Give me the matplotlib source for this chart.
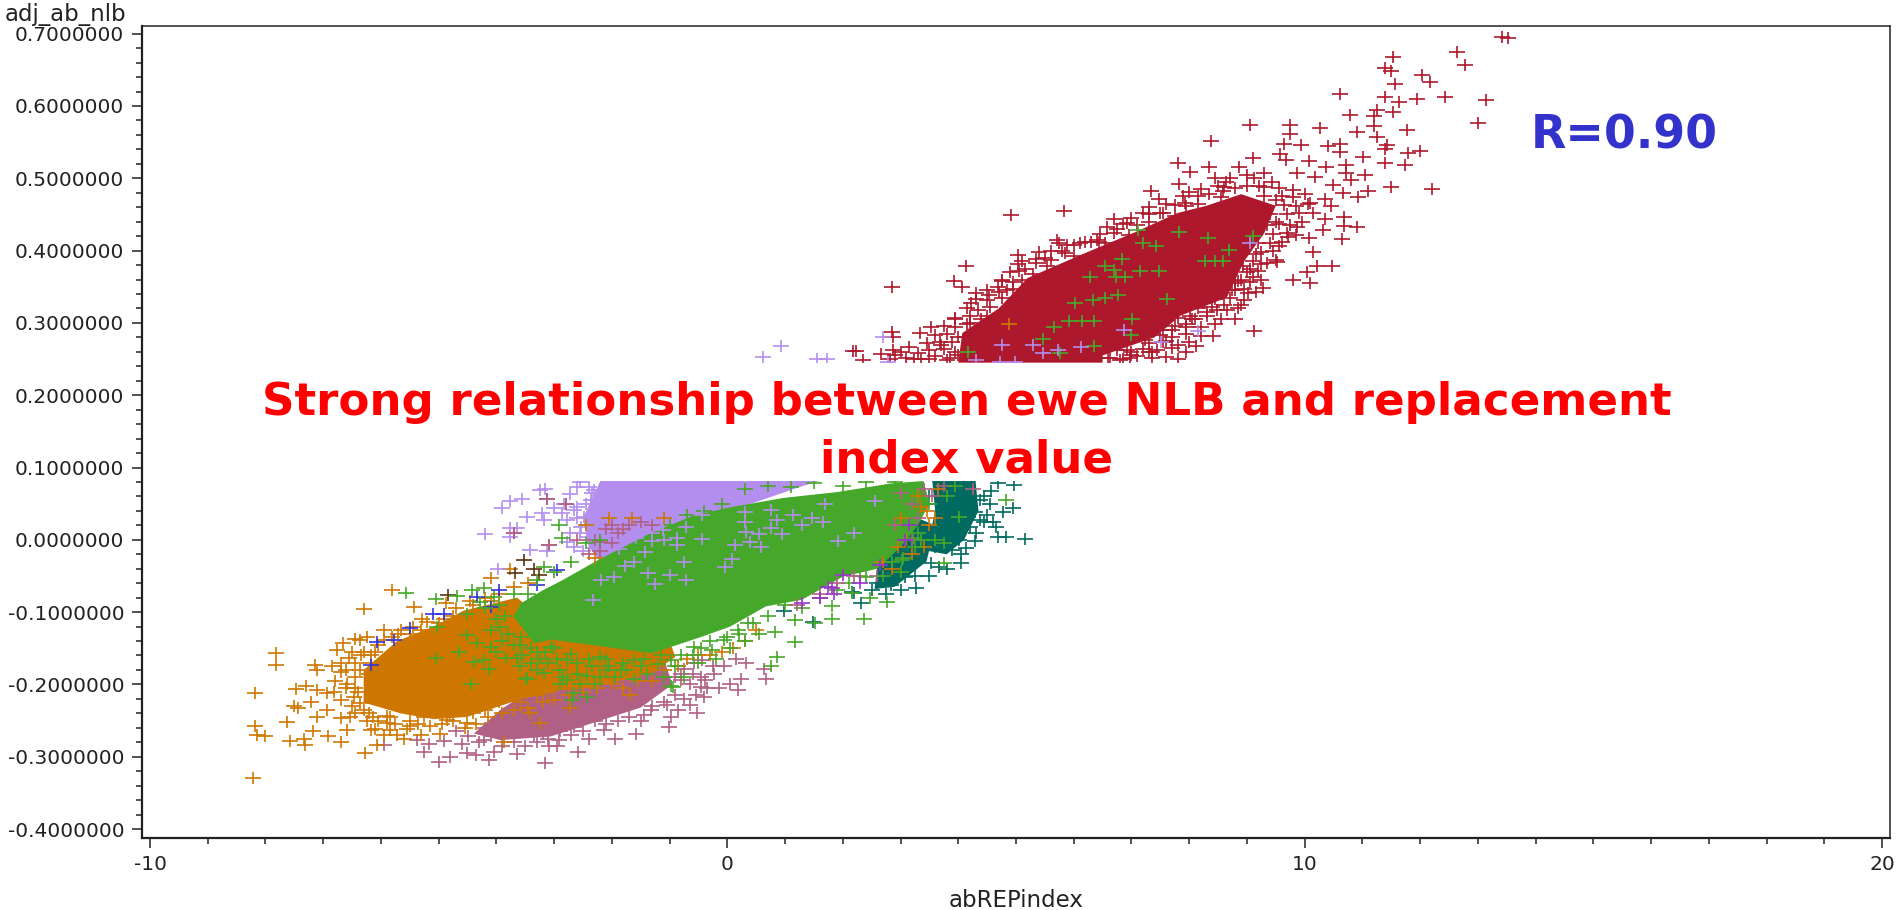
import numpy as np
import matplotlib
matplotlib.use('Agg')
import matplotlib.pyplot as plt
from matplotlib.path import Path

plt.rcParams['axes.unicode_minus'] = False

# Values. Where the crosses overlap into a solid mass the
# single points can't be read, so those parts are kept as an outline (*_core).
y_ticks = [0.7, 0.6, 0.5, 0.4, 0.3, 0.2, 0.1, 0.0, -0.1, -0.2, -0.3, -0.4]
x_ticks = [-10, 0, 10, 20]

red_core = [(4.0, .245), (4.07, .286), (4.7, .320), (5.2, .362), (6.15, .395), (7.05, .425), (7.8, .452),
            (8.3, .462), (8.9, .478), (9.5, .462), (9.3, .424), (8.95, .385), (8.65, .335), (7.85, .310),
            (7.4, .280), (6.5, .255), (6.5, .245)]
red_pts = [(13.41, .695), (13.52, .694), (12.64, .674), (12.78, .656), (11.53, .668), (11.39, .652),
           (11.49, .648), (12.04, .643), (12.17, .633), (11.56, .630), (10.62, .616), (11.39, .613),
           (11.63, .606), (11.94, .610), (12.43, .612), (13.14, .608), (13.01, .577), (11.53, .592),
           (11.26, .595), (11.20, .586), (10.78, .588), (11.20, .572), (11.77, .567), (10.90, .564),
           (11.25, .557), (9.06, .574), (9.74, .574), (9.74, .561), (10.27, .569), (8.38, .551),
           (9.64, .547), (9.93, .546), (10.41, .545), (10.62, .548), (10.62, .537), (11.42, .546),
           (11.40, .541), (11.79, .535), (12.0, .538), (11.01, .529), (11.40, .521), (11.73, .518),
           (9.10, .528), (9.58, .533), (9.68, .525), (10.07, .524), (7.81, .521), (8.01, .509),
           (8.35, .515), (8.86, .515), (10.37, .516), (10.72, .518), (10.71, .507), (11.05, .505),
           (11.50, .488), (12.21, .485), (11.09, .482), (10.92, .474), (10.66, .480), (10.49, .491),
           (10.80, .498), (10.35, .472), (10.45, .462), (10.10, .466), (10.14, .452), (10.35, .444),
           (10.68, .447), (10.68, .434), (10.90, .433), (10.31, .429), (10.64, .416), (10.08, .417),
           (9.87, .432), (9.72, .419), (9.56, .406), (10.15, .398), (9.52, .384), (10.22, .379),
           (10.47, .378), (10.04, .371), (9.79, .359), (10.10, .355), (9.27, .348), (9.02, .341),
           (8.90, .325), (8.79, .306), (9.13, .289), (8.44, .299), (8.42, .282), (8.11, .268),
           (8.48, .318), (9.13, .500), (9.29, .507), (9.21, .489), (9.44, .495), (9.87, .507),
           (10.18, .502), (9.79, .484), (8.63, .495), (8.44, .500), (7.82, .492), (7.99, .481),
           (7.33, .483), (7.47, .472), (6.70, .444), (6.58, .433), (6.93, .438), (7.20, .452),
           (7.55, .452), (7.93, .466), (8.59, .482), (4.92, .449), (5.83, .455), (5.71, .414),
           (5.88, .408), (6.19, .412), (6.43, .412), (5.03, .394), (5.03, .382), (5.34, .389),
           (4.13, .378), (3.93, .358), (4.07, .349), (2.85, .350), (4.30, .341), (4.76, .359),
           (4.68, .350), (4.53, .339), (4.22, .328), (3.95, .306), (3.52, .295), (3.33, .286),
           (2.85, .288), (3.14, .267), (2.87, .263), (2.67, .257), (2.22, .261), (2.35, .249),
           (3.68, .274), (5.54, .378), (6.0, .392), (8.94, .378), (9.25, .382), (9.10, .364),
           (8.79, .355), (8.48, .341), (8.24, .327), (8.01, .309), (7.70, .290), (7.55, .290),
           (7.24, .276), (6.93, .263), (7.35, .260), (6.97, .251), (6.62, .251), (2.18, .261),
           (2.81, .250), (3.23, .250), (2.87, .281)]
red_fringe = [(3.1, .252), (3.35, .250), (3.6, .254), (3.85, .251), (6.6, .252), (6.85, .250), (7.1, .254),
              (7.35, .251), (7.6, .253), (7.8, .250), (3.5, .262), (3.75, .264), (3.95, .260), (6.75, .262),
              (7.0, .260), (7.2, .264), (7.45, .262), (7.7, .265), (7.95, .260), (3.45, .272), (3.7, .270),
              (3.9, .274), (7.3, .272), (7.55, .274), (7.8, .270), (8.0, .273), (3.6, .283), (3.8, .285),
              (4.0, .281), (7.5, .283), (7.7, .281), (7.95, .285), (8.2, .282), (3.75, .296), (3.95, .294),
              (4.15, .298), (7.75, .296), (7.95, .298), (8.2, .294), (3.95, .307), (4.2, .309), (4.4, .305),
              (7.8, .307), (8.05, .305), (8.3, .309), (8.55, .306), (4.15, .320), (4.35, .318), (4.55, .322),
              (8.15, .320), (8.4, .322), (8.65, .318), (8.85, .321), (4.3, .333), (4.5, .331), (4.75, .335),
              (8.45, .333), (8.7, .335), (8.95, .331), (4.5, .345), (4.7, .343), (4.95, .347), (8.75, .345),
              (8.95, .347), (9.15, .343), (4.75, .358), (4.95, .356), (5.1, .360), (8.85, .358), (9.05, .356),
              (9.25, .360), (4.9, .370), (5.05, .372), (5.3, .368), (9.0, .370), (9.2, .372), (5.1, .385),
              (5.35, .383), (5.6, .387), (9.1, .385), (9.35, .383), (9.5, .387), (5.4, .398), (5.6, .400),
              (5.85, .396), (9.25, .398), (9.45, .400), (5.75, .410), (6.0, .408), (6.3, .412), (6.55, .410),
              (9.4, .410), (9.6, .412), (6.45, .423), (6.7, .425), (6.95, .421), (9.45, .423), (9.7, .425),
              (9.85, .421), (6.85, .437), (7.1, .435), (7.3, .439), (9.55, .437), (9.75, .435), (9.95, .439),
              (7.3, .450), (7.5, .452), (7.75, .448), (9.7, .450), (9.9, .452), (7.75, .463), (7.95, .461),
              (8.15, .465), (9.65, .463), (9.85, .461), (10.05, .465), (8.15, .476), (8.35, .478), (8.55, .474),
              (9.6, .476), (9.8, .474), (10.0, .478), (8.6, .488), (8.8, .486), (9.0, .490), (9.3, .488),
              (9.55, .486), (4.2, .30), (4.5, .31), (4.85, .345), (5.15, .375), (5.5, .39), (5.8, .40), (6.1, .41),
              (6.4, .415), (6.75, .43), (7.0, .445), (7.3, .46), (7.6, .465), (7.9, .475), (8.2, .485), (8.5, .49),
              (8.7, .50), (9.0, .505), (9.3, .475), (9.5, .47), (9.4, .45), (9.35, .435), (9.5, .44), (9.2, .41),
              (9.15, .395), (9.05, .375), (8.9, .36), (8.8, .345), (8.6, .325), (8.3, .315), (8.1, .305),
              (7.95, .295), (7.6, .275), (7.3, .26), (7.0, .255), (6.8, .248), (4.2, .265), (4.0, .255),
              (3.8, .248), (4.15, .28), (3.5, .25), (3.3, .258), (3.0, .26), (2.9, .255)]
red_green = [(7.12, .428), (7.82, .426), (8.32, .417), (7.20, .410), (7.42, .406), (8.69, .401),
             (6.83, .389), (8.28, .385), (8.44, .385), (8.58, .385), (6.54, .379), (6.70, .373),
             (7.14, .372), (7.47, .372), (6.29, .363), (6.74, .364), (6.89, .364), (6.77, .339),
             (6.54, .335), (6.33, .332), (6.02, .328), (7.61, .333), (7.01, .306), (5.92, .303),
             (6.15, .303), (6.35, .303), (5.65, .295), (6.99, .283), (5.47, .278), (6.35, .268),
             (4.16, .260), (5.77, .259), (9.10, .420)]
red_lav = [(2.69, .280), (9.06, .410), (6.87, .290), (8.15, .289), (7.51, .273), (4.76, .269),
           (5.29, .269), (5.46, .259), (6.12, .267), (5.73, .262), (4.30, .249), (4.98, .246),
           (4.72, .246), (2.79, .246), (.61, .253), (.93, .268), (1.56, .250), (1.72, .250)]
red_orange = [(4.88, .299)]

mauve_core = [(-4.39, -.268), (-3.93, -.235), (-3.35, -.205), (-2.77, -.185), (-1.91, -.165), (-1.1, -.165),
              (-.95, -.20), (-1.5, -.232), (-2.2, -.25), (-3.06, -.272), (-3.93, -.277)]
mauve_pts = [(-3.15, -.309), (-2.58, -.294), (-3.09, -.285), (-2.92, -.277), (-4.13, -.305), (-4.36, -.298),
             (-4.51, -.295), (-4.80, -.300), (-5.0, -.307), (-5.25, -.293), (-4.91, -.278), (-5.17, -.282),
             (-5.37, -.277), (-4.60, -.282), (-4.22, -.277), (-4.05, -.293), (-3.64, -.296), (-3.35, -.272),
             (-2.66, -.259), (-2.14, -.263), (-1.59, -.268), (-1.01, -.259), (-.98, -.245), (-1.04, -.229),
             (-.64, -.229), (-.52, -.240), (-1.45, -.242), (-1.33, -.235), (-.75, -.178), (-.81, -.194),
             (-.46, -.203), (-.58, -.171), (-5.95, -.284), (.24, -.192), (.67, -.192), (.18, -.208),
             (.64, -.179), (.33, -.170), (-.23, -.185), (-.41, -.217), (-.38, -.194), (-.44, -.166),
             (-.81, -.185), (-3.12, .057), (-2.8, .050), (-3.7, .009), (-3.09, -.007)]
mauve_fringe = [(-4.7, -.265), (-4.5, -.272), (-4.3, -.28), (-4.1, -.272), (-3.9, -.285), (-3.7, -.28), (-3.5, -.285),
                (-3.3, -.28), (-3.1, -.275), (-2.9, -.265), (-2.7, -.27), (-2.5, -.265), (-2.3, -.25), (-2.1, -.255),
                (-1.9, -.25), (-1.7, -.245), (-1.5, -.25), (-1.3, -.23), (-1.1, -.225), (-.9, -.215), (-.75, -.22),
                (-.55, -.215), (-.85, -.235), (-.35, -.205), (-.15, -.205), (.05, -.2), (-.65, -.2), (-.45, -.19),
                (-.25, -.175), (-.05, -.175), (.15, -.165), (-.6, -.185), (-.9, -.19), (-4.2, -.26), (-3.8, -.262),
                (-3.4, -.262), (-3.2, -.268), (-2.4, -.275), (-1.95, -.275), (-2.95, -.285)]

orange_core = [(-6.3, -.180), (-5.72, -.140), (-5.09, -.120), (-4.57, -.098), (-3.64, -.080), (-2.77, -.140),
               (-1.0, -.140), (-.9, -.162), (-1.31, -.185), (-1.8, -.194), (-2.4, -.205), (-2.89, -.208),
               (-3.64, -.222), (-4.51, -.245), (-5.09, -.248), (-5.66, -.240), (-6.3, -.225)]
orange_pts = [(-7.81, -.156), (-7.81, -.173), (-8.19, -.212), (-7.14, -.173), (-6.85, -.174), (-7.11, -.180),
              (-7.48, -.206), (-7.29, -.202), (-7.51, -.230), (-7.43, -.233), (-7.22, -.225), (-7.11, -.208),
              (-6.93, -.212), (-6.93, -.236), (-7.11, -.245), (-7.62, -.252), (-8.19, -.258), (-8.15, -.270),
              (-8.0, -.272), (-7.58, -.278), (-7.34, -.275), (-7.31, -.284), (-7.18, -.264), (-6.91, -.271),
              (-6.70, -.279), (-6.27, -.295), (-6.07, -.284), (-8.22, -.330), (-6.70, -.247), (-6.53, -.245),
              (-6.59, -.263), (-6.18, -.263), (-5.84, -.263), (-5.72, -.270), (-5.49, -.258), (-4.97, -.268),
              (-3.87, -.279), (-6.65, -.143), (-6.76, -.153), (-6.36, -.139), (-6.56, -.164), (-6.18, -.159),
              (-5.95, -.139), (-5.81, -.069), (-6.30, -.096), (-5.43, -.093), (-5.66, -.125), (-4.10, -.053),
              (-3.76, -.040), (-4.88, -.088), (-5.29, -.109), (-6.70, -.183), (-6.59, -.199), (-6.82, -.210),
              (-6.47, -.217), (-6.36, -.226), (-6.13, -.245), (-5.9, -.254), (-4.86, -.249), (-4.51, -.254),
              (-6.36, -.180), (-6.18, -.171), (-3.24, -.254), (-1.68, -.215), (-2.72, -.233), (-3.41, -.240)]
orange_fringe = [(-6.45, -.137), (-6.25, -.135), (-6.05, -.145), (-6.5, -.155), (-6.3, -.155), (-6.45, -.17), (-6.7, -.17),
                 (-6.6, -.18), (-6.45, -.19), (-6.8, -.195), (-6.6, -.205), (-6.45, -.205), (-6.7, -.222), (-6.5, -.23),
                 (-6.3, -.235), (-6.45, -.24), (-6.25, -.25), (-6.05, -.25), (-5.85, -.245), (-6.1, -.262), (-5.95, -.27),
                 (-5.75, -.255), (-5.55, -.262), (-5.35, -.255), (-5.15, -.258), (-4.95, -.255), (-4.75, -.25), (-4.55, -.26),
                 (-5.6, -.275), (-5.3, -.27), (-4.35, -.255), (-4.15, -.245), (-3.9, -.24), (-3.7, -.235), (-3.45, -.232),
                 (-3.2, -.225), (-3.0, -.222), (-2.75, -.215), (-2.5, -.21), (-2.25, -.205), (-2.0, -.2), (-1.8, -.205),
                 (-1.55, -.195), (-1.3, -.195), (-1.1, -.18), (-.85, -.175), (-.7, -.165), (-.5, -.16), (-.3, -.16),
                 (-.1, -.155), (.1, -.15), (.3, -.14), (.5, -.125), (-5.95, -.125), (-5.7, -.13), (-5.45, -.12),
                 (-5.2, -.113), (-4.9, -.11), (-4.7, -.095), (-4.45, -.085), (-4.2, -.08), (-3.95, -.075), (-3.7, -.065),
                 (-3.45, -.06), (-6.35, -.16), (-6.4, -.21), (-6.2, -.24), (-5.9, -.243), (-5.5, -.25), (-5.25, -.245),
                 (-4.8, -.24), (-4.4, -.24), (-4.2, -.235), (-3.95, -.225), (-3.6, -.225), (-3.3, -.215), (-3.1, -.21),
                 (-2.6, -.2), (-5.8, -.135), (-5.5, -.13), (-5.3, -.125), (-5.0, -.115), (-4.75, -.105), (-4.4, -.09),
                 (-4.1, -.085), (-6.1, -.155), (-6.2, -.185), (-6.15, -.215)]

teal_core = [(3.55, .0813), (4.3, .0813), (4.35, .04), (4.1, .0), (3.8, -.02), (3.45, -.015), (3.6, .04)]
teal_patch = [(2.55, -.068), (2.9, -.065), (3.45, -.03), (3.6, .02), (3.3, .03), (2.9, -.005), (2.6, -.035)]
teal_pts = [(5.16, .001), (4.69, .004), (4.82, .004), (4.66, .018), (4.77, .038), (4.94, .044),
            (4.97, .076), (4.57, .067), (4.29, -.001), (4.13, -.012), (4.04, -.032), (3.67, -.037),
            (3.27, -.066), (2.31, -.088), (2.16, -.072), (1.48, -.114), (.98, -.099), (4.38, .027),
            (4.44, .025), (4.29, .039), (4.01, 0), (3.89, -.014), (3.52, -.032), (3.08, -.051),
            (2.84, -.063), (2.59, -.060), (2.19, -.073), (4.38, .055), (4.14, .050), (3.89, .064),
            (4.69, .078), (4.2, .018), (2.5, -.07), (2.75, -.075), (3.0, -.07), (3.25, -.05), (3.5, -.05),
            (3.8, -.04), (4.05, -.02), (4.3, .01), (4.5, .035), (4.55, .05), (4.6, .025), (4.15, .07),
            (3.95, -.0), (4.45, .06), (3.3, -.02), (3.45, .0), (3.6, -.01), (3.5, .06), (3.65, .05)]

lav_core = [(-2.2, .0813), (-2.5, .03), (-2.4, -.01), (-2.2, -.03), (-1.04, .0), (.05, .04), (1.29, .074), (1.6, .0813)]
lav_pts = [(-3.15, .070), (-3.25, .069), (-3.56, .057), (-3.76, .053), (-3.90, .044), (-3.47, .032),
           (-3.21, .037), (-3.18, .027), (-3.01, .044), (-2.72, .064), (-2.60, .073), (-2.40, .073),
           (-3.76, .016), (-3.64, .016), (-4.19, .008), (-3.76, .004), (-3.41, -.014), (-3.12, -.016),
           (-3.97, -.040), (-2.78, .027), (-2.72, .009), (-2.54, .018), (-2.66, .041), (-2.37, .055),
           (-2.49, .032), (-2.43, .004), (-2.20, .069), (-1.91, .055), (-1.62, .037), (-2.31, -.012),
           (-2.83, .050), (-2.86, .037), (-2.60, .046), (-2.31, .069), (-2.08, .073), (-1.74, .055),
           (-2.2, .037), (-1.97, .032), (-2.78, -.003), (-2.55, .08), (-2.35, .065), (-2.45, .05),
           (-2.25, .055), (-2.3, .04), (-2.1, .05), (-2.6, .03), (-2.4, .02), (-2.2, .025), (-2.05, .025),
           (-1.85, .02), (-1.7, .015), (-2.55, .01), (-2.35, .0), (-2.15, .01), (-1.95, .005), (-1.75, .0),
           (-2.65, -.01), (-2.5, -.015), (-1.5, .015), (-1.3, .01), (-1.1, .0)]
lav_top = [(-2.33, -.083), (-2.18, -.055), (-1.96, -.051), (-1.37, -.046), (-1.0, -.049), (-1.25, -.061),
           (-.72, -.056), (-1.77, -.036), (-1.62, -.030), (-.75, -.030), (-.04, -.037), (.08, -.026),
           (-1.43, -.017), (-1.87, -.013), (-.88, -.007), (-.88, .003), (-.44, .001), (-1.31, -.002),
           (-1.59, .003), (-1.12, .013), (.14, -.007), (.39, -.003), (.58, -.010), (.55, .008),
           (.33, .011), (.95, .008), (.76, .016), (.30, .025), (.76, .041), (1.13, .034),
           (1.47, .030), (1.66, .024), (1.29, .021), (1.91, -.002), (2.19, .009), (2.56, .053),
           (1.69, .050), (.86, .027), (-.72, .018), (-.44, .034), (.30, .039)]

green_core = [(-3.70, -.106), (-3.58, -.088), (-3.2, -.07), (-2.86, -.056), (-2.24, -.028), (-1.31, .010),
              (-.57, .034), (.05, .045), (.98, .058), (1.9, .066), (2.84, .078), (3.4, .0813),
              (3.5, .05), (3.3, .02), (3.0, -.01), (2.6, -.04), (2.0, -.051), (1.29, -.083), (.67, -.092),
              (.05, -.120), (-.44, -.134), (-1.31, -.157), (-2.11, -.148), (-3.04, -.138), (-3.35, -.143)]
green_pts = [(-5.56, -.073), (-5.04, -.082), (-4.68, -.078), (-4.22, -.067), (-4.42, -.070), (-4.28, -.086),
             (-4.51, -.102), (-4.05, -.079), (-5.03, -.120), (-4.51, -.132), (-4.34, -.143), (-4.65, -.155),
             (-5.04, -.163), (-4.10, -.148), (-4.22, -.166), (-4.39, -.169), (-4.13, -.178), (-3.84, -.164),
             (-3.64, -.164), (-4.44, -.199), (-3.47, -.192), (-3.18, -.184), (-2.89, -.180), (-2.77, -.194),
             (-2.43, -.189), (-2.11, -.180), (-2.69, -.222), (-2.43, -.217), (-2.66, -.212), (-1.62, -.192),
             (-.98, -.202), (-.98, -.166), (-1.62, -.166), (-2.2, -.162), (-2.77, -.166), (-3.06, -.148),
             (-3.58, -.134), (-3.93, -.120), (-2.92, .020), (-2.86, .002), (-3.18, -.037), (1.17, -.142),
             (.86, -.162), (.76, -.175), (.83, -.128), (2.37, -.110), (2.77, -.086), (2.47, -.080),
             (1.82, -.109), (1.51, -.115), (1.17, -.111), (1.82, -.092), (2.16, -.074), (.36, -.115),
             (-.01, -.134), (-.26, -.152), (-.57, -.148), (-.94, -.203), (-3.48, -.191), (3.76, -.032),
             (3.02, -.028), (2.40, -.051), (4.82, .055), (4.01, .032), (3.21, .002), (3.76, -.005),
             (.18, -.125)]
green_fringe = [(-3.6, -.145), (-3.3, -.155), (-3.0, -.15), (-2.7, -.158), (-2.4, -.165), (-2.1, -.165), (-1.8, -.17),
                (-1.5, -.175), (-1.2, -.172), (-.9, -.175), (-.6, -.16), (-.3, -.14), (-.05, -.138), (.2, -.13),
                (.45, -.115), (.7, -.105), (1.0, -.09), (1.3, -.095), (1.6, -.08), (1.9, -.07), (2.1, -.06), (2.3, -.05),
                (-3.85, -.105), (-3.95, -.09), (-4.2, -.095), (-4.0, -.11), (-3.8, -.13), (-4.1, -.125), (-3.4, -.17),
                (-3.1, -.17), (-2.9, -.2), (-2.55, -.2), (-2.2, -.19), (-1.95, -.19), (-1.4, -.185), (-1.1, -.19),
                (-.75, -.19), (-.5, -.17), (-.2, -.165), (.05, -.15), (.3, -.14), (.55, -.13), (-3.7, -.075),
                (-3.45, -.075), (-3.3, -.055), (-3.0, -.045), (-2.7, -.03), (-2.45, -.005), (-2.2, .0), (-1.0, .02),
                (-.7, .035), (-.4, .04), (-.1, .05), (.3, .07), (.7, .075), (1.1, .073), (1.5, .078), (2.0, .075),
                (2.4, .08), (2.9, .08), (-3.4, -.15), (-3.7, -.145), (-3.9, -.14), (-3.55, -.16), (-3.25, -.165),
                (-2.95, -.165), (-2.6, -.17), (-2.35, -.175), (-2.05, -.175), (-1.75, -.18), (-1.45, -.165),
                (-1.15, -.16), (-.8, -.16), (-.45, -.15), (-2.85, -.19), (-2.6, -.185), (-2.3, -.2), (-1.85, -.18),
                (-3.15, -.155), (-3.6, -.175), (-3.3, -.18), (-4.0, -.155)]

# the mixed end of the lower cluster, next to the teal points
mix_orange = [(3.0, .03), (3.3, .06), (2.95, -.01), (3.45, .04), (3.65, .07), (2.7, -.03), (3.1, .0), (3.5, .02),
              (3.2, -.02), (3.4, -.01), (3.6, .03), (2.85, -.04), (3.35, .045)]
mix_mauve = [(3.2, .05), (3.0, .065), (3.4, .07), (3.75, .075), (2.9, .02), (3.3, .03), (2.6, -.05), (2.2, -.05),
             (1.9, -.06), (1.6, -.075), (1.2, -.09), (4.25, .07), (3.55, .06), (3.2, .0)]
mix_green = [(3.1, .04), (3.5, .05), (3.8, .06), (3.3, .01), (2.9, .0), (3.95, .075), (3.6, .0), (2.85, -.03),
             (3.05, -.025), (3.25, -.01), (2.7, -.05), (3.0, -.045), (3.35, .0)]

# the speckled part where the lavender mass meets the green one
top_mauve = [(-3.12, .057), (-2.8, .050), (-3.7, .009), (-3.09, -.007), (-2.4, -.02), (-2.2, -.003), (-2.6, .0), (-2.0, .02),
             (-1.8, .015), (-2.3, .0), (-2.1, .015), (-1.9, .01), (-1.7, .02), (-1.5, .025), (-2.2, -.015), (-2.0, -.005),
             (-1.3, .02)]
top_orange = [(-2.45, .02), (-2.05, .03), (-1.65, .03), (-2.3, -.025), (-1.1, .03)]

brown_pts = [(-3.53, -.028), (-3.35, -.04), (-3.67, -.046), (-3.27, -.049), (-4.83, -.076)]
blue_pts = [(-5.49, -.122), (-5.09, -.102), (-4.91, -.102), (-3.96, -.069), (-4.34, -.079), (-4.10, -.093),
            (-6.07, -.142), (-5.78, -.139), (-6.18, -.173), (-3.3, -.063), (-2.95, -.042)]
purple_pts = [(2.0, -.049), (1.29, -.088), (3.08, 0), (1.82, -.067), (2.65, -.035), (3.15, .02), (2.3, -.06),
              (1.6, -.08), (1.75, -.065), (1.85, -.075)]

# the picture's text box hides this band of the data
box_bottom = 0.0813
box_top = 0.2447

RED = '#AE182C'
MAUVE = '#B06084'
ORANGE = '#CE7700'
TEAL = '#006A60'
LAV = '#B48EEE'
GREEN = '#46A82A'

# the crosses in the picture are wider than tall
cross = Path([(-1, 0), (1, 0), (0, -0.72), (0, 0.72)],
             [Path.MOVETO, Path.LINETO, Path.MOVETO, Path.LINETO])


def draw_points(pts, color):
    xy = np.array(pts)
    ax.plot(xy[:, 0], xy[:, 1], linestyle='none', marker=cross, ms=11.5, mew=1.2, mec=color, mfc='none')


def draw_core(pts, color):
    xy = np.array(pts)
    ax.fill(xy[:, 0], xy[:, 1], color=color, lw=0)


fig = plt.figure(figsize=(18.97, 9.10), dpi=100)
ax = fig.add_axes([142 / 1897, 1 - 838 / 910, 1748 / 1897, 812 / 910])

draw_core(red_core, RED)
draw_points(red_pts, RED)
draw_points(red_fringe, RED)
draw_points(red_green, GREEN)
draw_points(red_lav, LAV)
draw_points(red_orange, ORANGE)

draw_core(teal_core, TEAL)
draw_core(teal_patch, TEAL)
draw_points(teal_pts, TEAL)
draw_core(mauve_core, MAUVE)
draw_points(mauve_pts, MAUVE)
draw_points(mauve_fringe, MAUVE)
draw_core(orange_core, ORANGE)
draw_points(orange_pts, ORANGE)
draw_points(orange_fringe, ORANGE)
draw_points(blue_pts, '#3333DD')
draw_points(brown_pts, '#5C3310')
draw_core(lav_core, LAV)
draw_points(lav_pts, LAV)
draw_points(top_mauve, MAUVE)
draw_points(top_orange, ORANGE)
draw_core(green_core, GREEN)
draw_points(green_pts, GREEN)
draw_points(green_fringe, GREEN)
draw_points(mix_orange, ORANGE)
draw_points(mix_mauve, MAUVE)
draw_points(mix_green, GREEN)
draw_points(purple_pts, '#9933CC')
draw_points(lav_top, LAV)

ax.set_xlim(-10.139, 20.139)
ax.set_ylim(-0.4124, 0.7106)
ax.set_xticks(x_ticks)
ax.set_yticks(y_ticks)
ax.set_xticks(np.arange(-10, 21, 1), minor=True)
ax.set_yticks(np.arange(-0.4, 0.701, 0.02), minor=True)
ax.set_yticklabels([f'{v:.7f}' for v in y_ticks])

ax.tick_params(which='major', length=7.2, width=1.1, pad=5.5, labelsize=14.5, color='#222222', labelcolor='#222222')
ax.tick_params(which='minor', length=4.2, width=1.1, color='#222222')
ax.tick_params(axis='x', which='major', pad=5)
for side in ['left', 'bottom']:
    ax.spines[side].set_linewidth(1.6)
for side in ['top', 'right']:
    ax.spines[side].set_linewidth(1.1)
for spine in ax.spines.values():
    spine.set_color('#222222')

ax.set_xlabel('abREPindex', fontsize=16.5, color='#222222', labelpad=11)
ax.set_ylabel('adj_ab_nlb', rotation=0, ha='right', va='center', fontsize=16.5, color='#222222')
ax.yaxis.set_label_coords(-16 / 1748, 823 / 812)

ax.axhspan(box_bottom, box_top, xmin=0.05, xmax=0.95, color='white', lw=0, zorder=9)
ax.text(0.4717, 0.501, 'Strong relationship between ewe NLB and replacement\nindex value', transform=ax.transAxes,
        ha='center', va='center', fontsize=32.5, fontweight='bold', color='#FF0000', linespacing=1.44, zorder=10)
ax.text(0.848, 0.8645, 'R=0.90', transform=ax.transAxes, ha='center', va='center', fontsize=33, fontweight='bold',
        color='#3333CC', zorder=10)

fig.savefig('out.png', dpi=100)
